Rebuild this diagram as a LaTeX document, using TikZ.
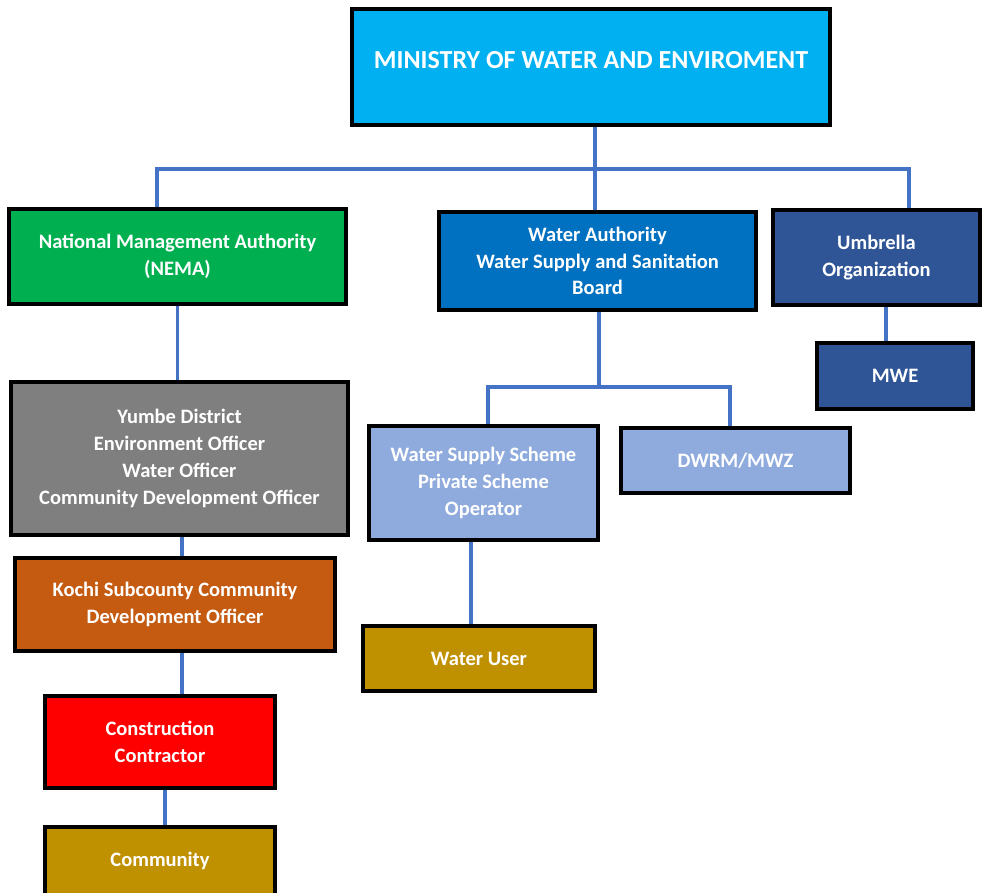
\documentclass[tikz,border=0pt]{standalone}
\usepackage{fontspec}
\setmainfont{Carlito}
\usepackage{xcolor}
\definecolor{cMin}{HTML}{00B0F0}
\definecolor{cNema}{HTML}{00B050}
\definecolor{cAuth}{HTML}{0070C0}
\definecolor{cUmb}{HTML}{2F5597}
\definecolor{cGrey}{HTML}{7F7F7F}
\definecolor{cLight}{HTML}{8FAADC}
\definecolor{cRust}{HTML}{C55A11}
\definecolor{cGold}{HTML}{BF9000}
\definecolor{cRed}{HTML}{FF0000}
\definecolor{cLink}{HTML}{4472C4}
\usetikzlibrary{positioning,calc}
\tikzset{
  box/.style={draw=black,line width=4pt,align=center,text=white,inner sep=2pt,
    font=\bfseries\fontsize{20.5}{26.8}\selectfont},
  link/.style={draw=cLink,line width=3.5pt}}

\begin{document}
\begin{tikzpicture}[x=1pt,y=-1pt]
  \useasboundingbox (0,0) rectangle (984,892);
  % top level
  \node[box,fill=cMin,minimum width=478pt,minimum height=116pt,
    font=\bfseries\fontsize{26}{30}\selectfont,text depth=14pt] (min) at (591,67)
    {MINISTRY OF WATER AND ENVIROMENT};
  \node[box,fill=cNema,minimum width=337pt,minimum height=95pt] (nema) at (177.5,256.5)
    {National Management Authority\\(NEMA)};
  \node[box,fill=cAuth,minimum width=317pt,minimum height=98pt] (wa) at (597.5,261)
    {Water Authority\\Water Supply and Sanitation\\Board};
  \node[box,fill=cUmb,minimum width=207pt,minimum height=95pt] (umb) at (876.5,257.5)
    {Umbrella\\Organization};
  % second level
  \node[box,fill=cUmb,minimum width=156pt,minimum height=66pt] (mwe) at (895,376) {MWE};
  \node[box,fill=cGrey,minimum width=337pt,minimum height=153pt] (yumbe) at (179.5,458.5)
    {Yumbe District\\Environment Officer\\Water Officer\\Community Development Officer};
  \node[box,fill=cLight,minimum width=229pt,minimum height=114pt] (wss) at (483.5,483)
    {Water Supply Scheme\\Private Scheme\\Operator};
  \node[box,fill=cLight,minimum width=229pt,minimum height=65pt] (dwrm) at (735.5,460.5)
    {DWRM/MWZ};
  % lower levels
  \node[box,fill=cRust,minimum width=320pt,minimum height=93pt] (kochi) at (175,604.5)
    {Kochi Subcounty Community\\Development Officer};
  \node[box,fill=cGold,minimum width=232pt,minimum height=65pt] (user) at (479,658.5)
    {Water User};
  \node[box,fill=cRed,minimum width=230pt,minimum height=92pt] (contr) at (160,742)
    {Construction\\Contractor};
  \node[box,fill=cGold,minimum width=230pt,minimum height=68pt] (comm) at (160,861)
    {Community};
  % connectors
  \coordinate (bus) at (595,169);
  \coordinate (bus2) at (599,387);
  \draw[link] ([xshift=4pt]min.south) -- ([xshift=-2.5pt]wa.north);
  \draw[link] ([xshift=-20.5pt]nema.north) |- (bus) -| ([xshift=32.5pt]umb.north);
  \draw[link] (nema.south) -- (nema.south |- yumbe.north);
  \draw[link] ([xshift=1.5pt]wa.south) -- (bus2);
  \draw[link] ([xshift=4.5pt]wss.north) |- (bus2) -| ([xshift=-5.5pt]dwrm.north);
  \draw[link] ([xshift=9.5pt]umb.south) -- ([xshift=9.5pt]umb.south |- mwe.north);
  \draw[link] ([xshift=2.5pt]yumbe.south) -- ([xshift=2.5pt]yumbe.south |- kochi.north);
  \draw[link] ([xshift=7pt]kochi.south) -- ([xshift=7pt]kochi.south |- contr.north);
  \draw[link] ([xshift=5pt]contr.south) -- ([xshift=5pt]contr.south |- comm.north);
  \draw[link] ([xshift=-12.5pt]wss.south) -- ([xshift=-12.5pt]wss.south |- user.north);
\end{tikzpicture}
\end{document}
